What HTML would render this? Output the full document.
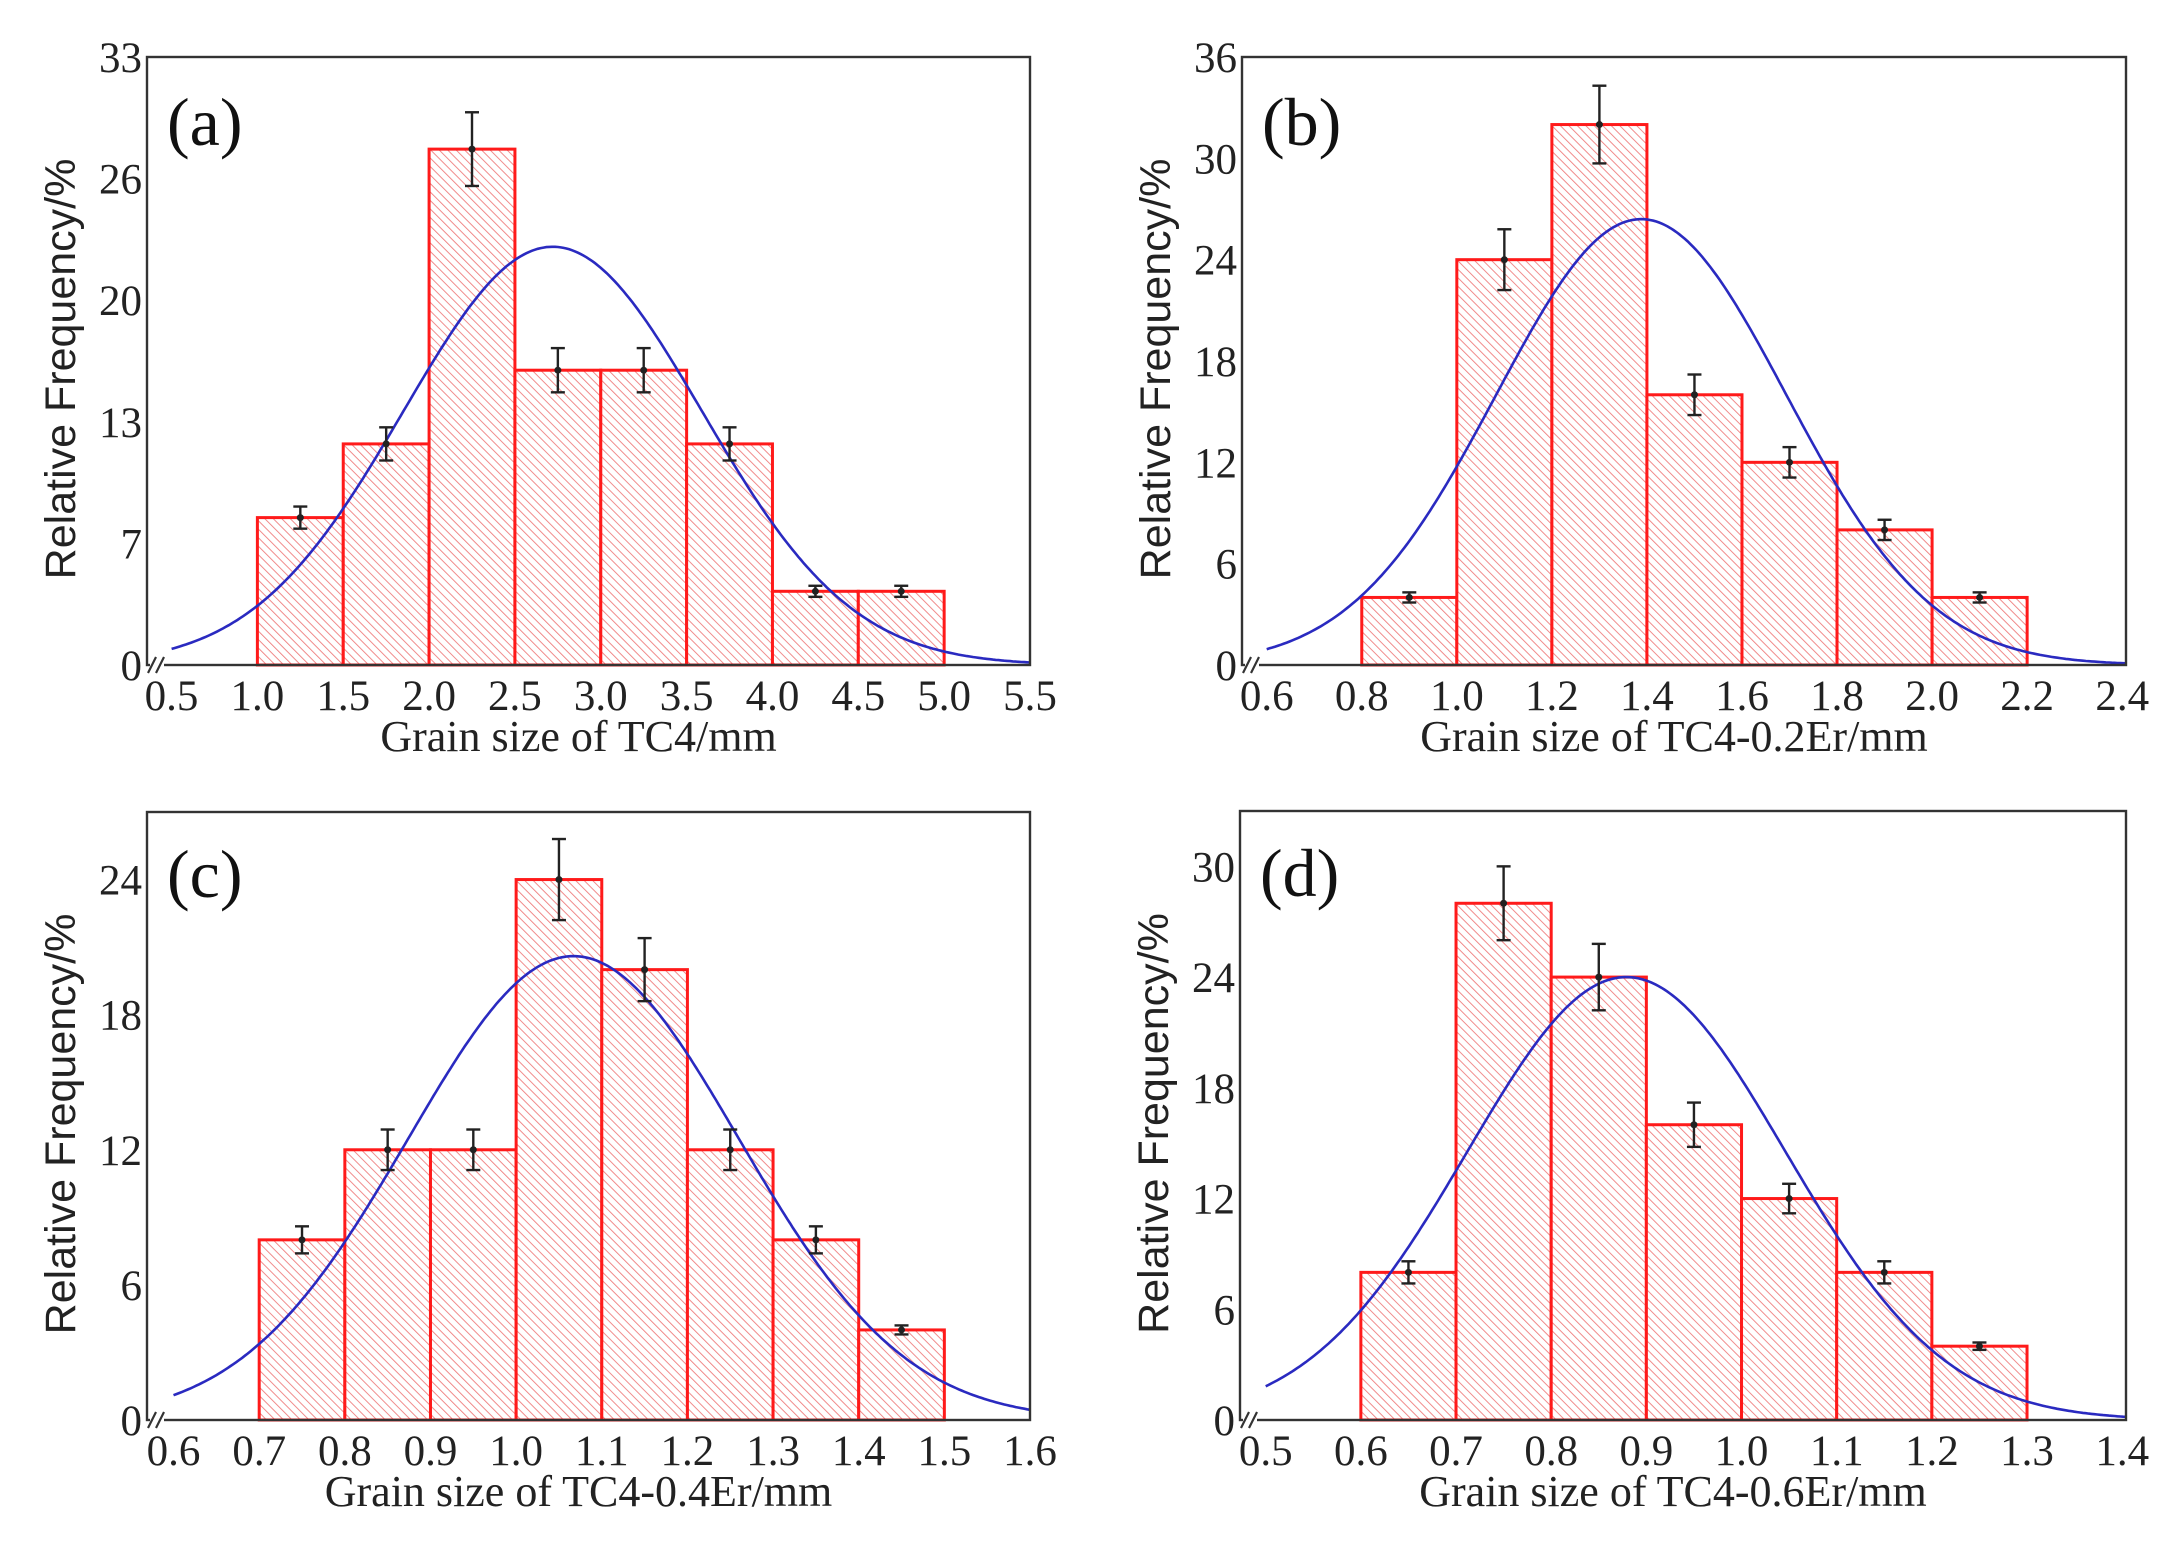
<!DOCTYPE html>
<html><head><meta charset="utf-8">
<style>
html,body{margin:0;padding:0;background:#fff;}
svg{display:block;}
.tick{font-family:"Liberation Serif",serif;font-size:43px;fill:#222;}
.xt{font-family:"Liberation Serif",serif;font-size:43px;fill:#222;}
.ttl{font-family:"Liberation Serif",serif;font-size:44px;fill:#222;}
.yl{font-family:"Liberation Sans",sans-serif;font-size:43px;fill:#222;}
.pl{font-family:"Liberation Serif",serif;font-size:68px;fill:#111;}
</style></head>
<body>
<svg id="fig" width="2184" height="1542" viewBox="0 0 2184 1542" xmlns="http://www.w3.org/2000/svg">
<defs>
<pattern id="hatch" patternUnits="userSpaceOnUse" width="6" height="6" patternTransform="rotate(-45)">
<rect width="6" height="6" fill="#fff"/>
<line x1="0" y1="0" x2="0" y2="6" stroke="#ef7f7f" stroke-width="1.8"/>
</pattern>
</defs>
</svg>
<script>
// Panel (a) TC4
const aBinEdges=[1.0,1.5,2.0,2.5,3.0,3.5,4.0,4.5,5.0];
const aFreq=[8,12,28,16,16,12,4,4];
const aErr=[0.6,0.9,2,1.2,1.2,0.9,0.3,0.3];
const aFit=[2.72,0.87,22.7];
const aXTicks=["0.5","1.0","1.5","2.0","2.5","3.0","3.5","4.0","4.5","5.0","5.5"];
const aYTicks=["0","7","13","20","26","33"];
// Panel (b) TC4-0.2Er
const bBinEdges=[0.8,1.0,1.2,1.4,1.6,1.8,2.0,2.2];
const bFreq=[4,24,32,16,12,8,4];
const bErr=[0.3,1.8,2.3,1.2,0.9,0.6,0.3];
const bFit=[1.388,0.305,26.4];
const bXTicks=["0.6","0.8","1.0","1.2","1.4","1.6","1.8","2.0","2.2","2.4"];
const bYTicks=["0","6","12","18","24","30","36"];
// Panel (c) TC4-0.4Er
const cBinEdges=[0.7,0.8,0.9,1.0,1.1,1.2,1.3,1.4,1.5];
const cFreq=[8,12,12,24,20,12,8,4];
const cErr=[0.6,0.9,0.9,1.8,1.4,0.9,0.6,0.2];
const cFit=[1.067,0.193,20.6];
const cXTicks=["0.6","0.7","0.8","0.9","1.0","1.1","1.2","1.3","1.4","1.5","1.6"];
const cYTicks=["0","6","12","18","24"];
// Panel (d) TC4-0.6Er
const dBinEdges=[0.6,0.7,0.8,0.9,1.0,1.1,1.2,1.3];
const dFreq=[8,28,24,16,12,8,4];
const dErr=[0.6,2,1.8,1.2,0.8,0.6,0.2];
const dFit=[0.879,0.167,24.0];
const dXTicks=["0.5","0.6","0.7","0.8","0.9","1.0","1.1","1.2","1.3","1.4"];
const dYTicks=["0","6","12","18","24","30"];

const NS="http://www.w3.org/2000/svg";
const svg=document.getElementById('fig');
function mk(tag,attrs,parent){const e=document.createElementNS(NS,tag);for(const k in attrs)e.setAttribute(k,attrs[k]);(parent||svg).appendChild(e);return e;}

function panel(cfg){
  const g=mk('g',{});
  
  
  const L=cfg.L,T=cfg.T,W=cfg.W,H=cfg.H;
  const X=v=>L+(v-cfg.xmin)/(cfg.xmax-cfg.xmin)*W;
  const Y=v=>T+H-(v-cfg.ymin)/(cfg.ymax-cfg.ymin)*H;
  for(let i=0;i<cfg.freq.length;i++){
    const x0=X(cfg.edges[i]),x1=X(cfg.edges[i+1]),y=Y(cfg.freq[i]);
    const r=mk('rect',{x:x0,y:y,width:x1-x0,height:Y(0)-y,fill:'url(#hatch)',stroke:'#ff1a1a','stroke-width':3},g);
    
    
  }
  let d='';
  const n=300;
  for(let k=0;k<=n;k++){
    const xv=cfg.curveStart+(cfg.xmax-cfg.curveStart)*k/n;
    const yv=cfg.fit[2]*Math.exp(-Math.pow(xv-cfg.fit[0],2)/(2*cfg.fit[1]*cfg.fit[1]));
    d+=(k?'L':'M')+X(xv).toFixed(1)+' '+Y(yv).toFixed(1);
  }
  const c=mk('path',{d:d,fill:'none',stroke:'#2a2ac0','stroke-width':2.6},g);
  
  
  for(let i=0;i<cfg.freq.length;i++){
    const xc=X((cfg.edges[i]+cfg.edges[i+1])/2);
    const y1=Y(cfg.freq[i]+cfg.err[i]),y2=Y(cfg.freq[i]-cfg.err[i]);
    const eg=mk('g',{stroke:'#222','stroke-width':2.4},g);
    
    
    mk('line',{x1:xc,y1:y1,x2:xc,y2:y2},eg);
    mk('line',{x1:xc-7,y1:y1,x2:xc+7,y2:y1},eg);
    mk('line',{x1:xc-7,y1:y2,x2:xc+7,y2:y2},eg);
    mk('circle',{cx:xc,cy:Y(cfg.freq[i]),r:3.5,fill:'#222',stroke:'none'},eg);
  }
  const fr=mk('rect',{x:L,y:T,width:W,height:H,fill:'none',stroke:'#333','stroke-width':2.4},g);
  
  
  const br=mk('g',{stroke:'#333','stroke-width':2.2},g);
  
  
  mk('rect',{x:L+3,y:T+H-8,width:14,height:16,fill:'#fff',stroke:'none'},br);
  mk('line',{x1:L+1,y1:T+H+8,x2:L+9,y2:T+H-8},br);
  mk('line',{x1:L+9,y1:T+H+8,x2:L+17,y2:T+H-8},br);
  cfg.xticks.forEach((t,i)=>{
    const tx=mk('text',{x:X(parseFloat(t)),y:T+H+45,'text-anchor':'middle',class:'xt'},g);
    tx.textContent=t;
    
    
  });
  const ny=cfg.yticks.length;
  cfg.yticks.forEach((t,i)=>{
    const yv=cfg.ymin+(cfg.ytickTop-cfg.ymin)*i/(ny-1);
    const ty=mk('text',{x:L-5,y:Y(yv)+15,'text-anchor':'end',class:'tick'},g);
    ty.textContent=t;
    
    
  });
  const xt=mk('text',{x:L+W/2-10,y:T+H+86,'text-anchor':'middle',class:'ttl'},g);
  xt.textContent=cfg.xtitle;
  
  
  const yc=T+H/2+8;
  const yt=mk('text',{x:L-72,y:yc,'text-anchor':'middle',class:'yl',transform:'rotate(-90 '+(L-72)+' '+yc+')'},g);
  yt.textContent='Relative Frequency/%';
  
  
  const pl=mk('text',{x:L+20,y:T+cfg.labelDy,class:'pl'},g);
  pl.textContent=cfg.label;
  
  
}

panel({id:'a',L:147,T:57,W:883,H:608,xmin:0.357,xmax:5.5,ymin:0,ymax:33,ytickTop:33,curveStart:0.5,
  edges:aBinEdges,freq:aFreq,err:aErr,fit:aFit,xticks:aXTicks,yticks:aYTicks,xtitle:'Grain size of TC4/mm',label:'(a)',labelDy:88});
panel({id:'b',L:1242,T:57,W:884,H:608,xmin:0.548,xmax:2.408,ymin:0,ymax:36,ytickTop:36,curveStart:0.6,
  edges:bBinEdges,freq:bFreq,err:bErr,fit:bFit,xticks:bXTicks,yticks:bYTicks,xtitle:'Grain size of TC4-0.2Er/mm',label:'(b)',labelDy:88});
panel({id:'c',L:147,T:812,W:883,H:608,xmin:0.569,xmax:1.6,ymin:0,ymax:27,ytickTop:24,curveStart:0.6,
  edges:cBinEdges,freq:cFreq,err:cErr,fit:cFit,xticks:cXTicks,yticks:cYTicks,xtitle:'Grain size of TC4-0.4Er/mm',label:'(c)',labelDy:85});
panel({id:'d',L:1240,T:811,W:886,H:609,xmin:0.473,xmax:1.404,ymin:0,ymax:33,ytickTop:30,curveStart:0.5,
  edges:dBinEdges,freq:dFreq,err:dErr,fit:dFit,xticks:dXTicks,yticks:dYTicks,xtitle:'Grain size of TC4-0.6Er/mm',label:'(d)',labelDy:85});
</script>
</body></html>
